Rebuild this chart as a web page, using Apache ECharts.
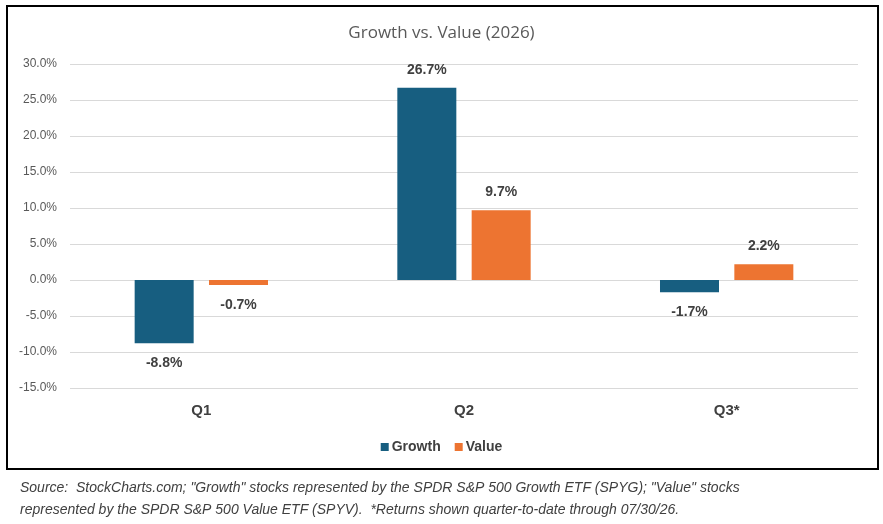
<!DOCTYPE html>
<html><head><meta charset="utf-8">
<script src="https://cdn.jsdelivr.net/npm/echarts@6/dist/echarts.min.js"></script>
<style>html,body{margin:0;padding:0;background:#fff}#c{width:883px;height:524px}</style>
</head><body><div id="c"></div>
<script>
const categories = ['Q1', 'Q2', 'Q3*'];
const growth = [-8.8, 26.7, -1.7];
const value = [-0.7, 9.7, 2.2];
const yTicks = { min: -15, max: 30, interval: 5 };
const chart = echarts.init(document.getElementById('c'));
const lbl = {
  show: true, fontFamily: 'Liberation Sans, Arial', fontWeight: 'bold', fontSize: 14, color: '#404040',
  formatter: p => p.value.toFixed(1) + '%'
};
function series(name, data, color) {
  return {
    name, type: 'bar',
    data: data.map(v => ({ value: v, label: v < 0 ? { position: 'bottom', distance: 13 } : { position: 'top', distance: 11 } })),
    itemStyle: { color }, barWidth: 59, barGap: '26%', label: lbl
  };
}
chart.setOption({
  animation: false,
  title: { text: 'Growth vs. Value (2026)', left: 'center', top: 20,
    textStyle: { fontFamily: 'Open Sans', fontWeight: 'normal', fontSize: 17, color: '#595959' } },
  grid: { left: 70, right: 25, top: 64, bottom: 136, containLabel: false },
  legend: { bottom: 65, left: 'center', itemWidth: 8, itemHeight: 8, itemGap: 14, icon: 'rect',
    textStyle: { fontFamily: 'Liberation Sans Narrow, Liberation Sans', fontWeight: 'bold', fontSize: 14, color: '#404040', padding: [0,0,0,-2] } },
  xAxis: { type: 'category', data: categories, axisLine: { show: false }, axisTick: { show: false },
    axisLabel: { fontFamily: 'Liberation Sans Narrow, Liberation Sans', fontWeight: 'bold', fontSize: 15, color: '#404040', margin: 15 } },
  yAxis: { type: 'value', min: yTicks.min, max: yTicks.max, interval: yTicks.interval,
    axisLabel: { formatter: v => v.toFixed(1) + '%', fontFamily: 'Liberation Sans, Arial', fontSize: 12, color: '#595959', margin: 13 },
    splitLine: { lineStyle: { color: '#d9d9d9', width: 1 } }, axisLine: { show: false }, axisTick: { show: false } },
  series: [series('Growth', growth, '#175e80'), series('Value', value, '#ed7431')],
  graphic: [
    { type: 'rect', shape: { x: 7, y: 6, width: 871, height: 463 }, style: { fill: 'none', stroke: '#000', lineWidth: 2 }, silent: true },
    { type: 'text', left: 20, top: 481, style: { text: 'Source:  StockCharts.com; "Growth" stocks represented by the SPDR S&P 500 Growth ETF (SPYG); "Value" stocks',
      font: 'italic 14px "Liberation Sans Narrow", "Liberation Sans"', fill: '#404040' } },
    { type: 'text', left: 20, top: 503, style: { text: 'represented by the SPDR S&P 500 Value ETF (SPYV).  *Returns shown quarter-to-date through 07/30/26.',
      font: 'italic 14px "Liberation Sans Narrow", "Liberation Sans"', fill: '#404040' } }
  ]
});
</script></body></html>
